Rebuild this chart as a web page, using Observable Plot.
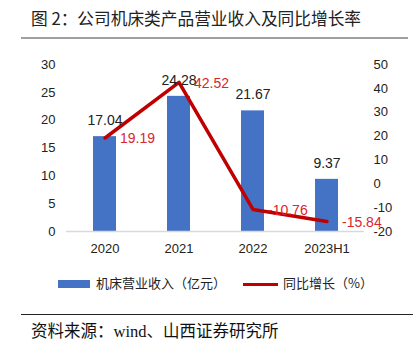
<!DOCTYPE html>
<html><head><meta charset="utf-8">
<script src="https://cdn.jsdelivr.net/npm/d3@7"></script>
<script src="https://cdn.jsdelivr.net/npm/@observablehq/plot@0.6"></script>
<style>
body{margin:0;background:#fff;}
#wrap{position:relative;width:417px;height:346px;overflow:hidden;font-family:"Noto Sans CJK SC","Noto Sans",sans-serif;}
#title{position:absolute;left:31px;top:6px;font-size:16.7px;color:#222;}
#rule1{position:absolute;left:21px;top:37px;width:387px;height:2px;background:#a0a0a0;}
#chart{position:absolute;left:0;top:48px;}
#legend{position:absolute;left:0;top:273px;width:417px;font-size:13px;color:#222;}
.sw{position:absolute;}
#rule2{position:absolute;left:21px;top:314px;width:392px;height:1px;background:#222;}
#foot{position:absolute;left:31px;top:318px;font-size:16.5px;color:#111;font-family:"Liberation Serif","Noto Sans CJK SC",serif;}
</style></head>
<body><div id="wrap">
<div id="title">图 2：公司机床类产品营业收入及同比增长率</div>
<div id="rule1"></div>
<div id="chart"></div>
<div id="legend">
  <div class="sw" style="left:58px;top:7px;width:32px;height:8px;background:#4472C4"></div>
  <div class="sw" style="left:96px;top:0px;">机床营业收入（亿元）</div>
  <div class="sw" style="left:243px;top:10px;width:35px;height:3px;background:#C00000"></div>
  <div class="sw" style="left:283px;top:0px;">同比增长（%）</div>
</div>
<div id="rule2"></div>
<div id="foot">资料来源：wind、山西证券研究所</div>
</div>
<script>
const categories = ["2020", "2021", "2022", "2023H1"];
const revenue = [17.04, 24.28, 21.67, 9.37];
const growth = [19.19, 42.52, -10.76, -15.84];
const leftTicks = [0, 5, 10, 15, 20, 25, 30];
const rightTicks = [-20, -10, 0, 10, 20, 30, 40, 50];

// map right axis [-20,50] onto left axis [0,30]
const toLeft = g => (g + 20) * 30 / 70;
const fromLeft = v => Math.round(v * 70 / 30 - 20);

const data = categories.map((c, i) => ({cat: c, rev: revenue[i], g: growth[i], gy: toLeft(growth[i])}));
const font = "'Liberation Sans', 'Noto Sans', sans-serif";

const plot = Plot.plot({
  width: 417,
  height: 210,
  marginLeft: 66,
  marginRight: 53,
  marginTop: 16,
  marginBottom: 27,
  style: {fontFamily: font, fontSize: "13px", color: "#222", background: "transparent"},
  x: {domain: categories, paddingInner: 0.69, paddingOuter: 0.345, label: null},
  y: {domain: [0, 30], label: null},
  marks: [
    Plot.axisY({anchor: "left", ticks: leftTicks, tickSize: 0, tickPadding: 11, label: null, fontSize: 13}),
    Plot.axisY({anchor: "right", ticks: rightTicks.map(toLeft), tickFormat: d => String(fromLeft(d)), tickSize: 0, tickPadding: 9, label: null, fontSize: 13}),
    Plot.axisX({tickSize: 0, tickPadding: 12, label: null, fontSize: 13}),
    Plot.barY(data, {x: "cat", y: "rev", fill: "#4472C4"}),
    Plot.ruleY([0], {stroke: "#d9d9d9", strokeWidth: 1.5}),
    Plot.line(data, {x: "cat", y: "gy", stroke: "#C00000", strokeWidth: 3.5}),
    Plot.text(data, {x: "cat", y: "rev", text: d => d.rev.toFixed(2), dy: -16, fill: "#222", fontSize: 14}),
    Plot.text(data, {x: "cat", y: "gy", text: d => d.g.toFixed(2), dx: 15, dy: 1, textAnchor: "start", fill: "#d9262b", fontSize: 14})
  ]
});
document.getElementById("chart").appendChild(plot);
</script>
</body></html>
